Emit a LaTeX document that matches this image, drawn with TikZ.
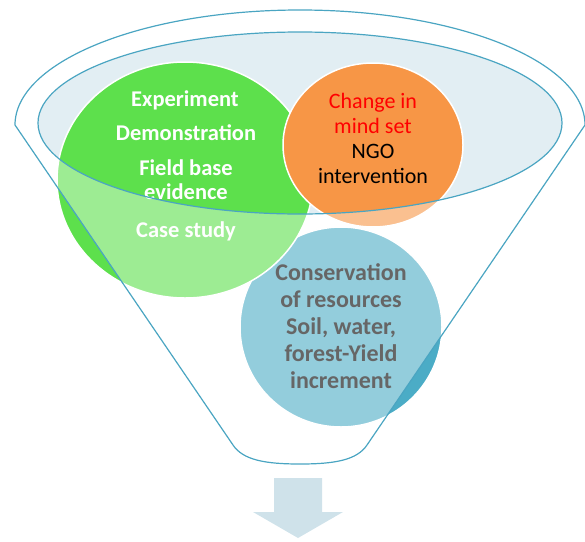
\documentclass[tikz,border=0pt]{standalone}
\usepackage{fontspec}
\setmainfont{Carlito}
\definecolor{rimblue}{HTML}{4AA5C2}
\definecolor{mouthfill}{HTML}{E2EEF3}
\definecolor{evgreen}{HTML}{5DE04C}
\definecolor{ngoorange}{HTML}{F79646}
\definecolor{resblue}{HTML}{4BACC6}
\definecolor{arrowfill}{HTML}{CFE2EA}
\definecolor{restext}{HTML}{666666}
\begin{document}
\begin{tikzpicture}[x=1pt,y=-1pt,
    bubble/.style={draw=white,line width=1.5pt},
    rim/.style={draw=rimblue,line width=1.2pt},
    greentxt/.style={inner sep=0pt,align=center,text=white,font=\bfseries\fontsize{22.5}{24}\selectfont},
    orangetxt/.style={inner sep=0pt,align=center,font=\fontsize{22}{25}\selectfont},
    bluetxt/.style={inner sep=0pt,align=center,text=restext,font=\bfseries\fontsize{24}{27}\selectfont}]
    \useasboundingbox (0,0) rectangle (585,541);
    % mouth of the funnel
    \fill [mouthfill] (300,123) ellipse (262 and 91);
    % the three bubbles
    \filldraw [bubble,fill=resblue] (341,327) ellipse (101 and 100);
    \filldraw [bubble,fill=evgreen] (185,180) ellipse (128 and 118);
    \filldraw [bubble,fill=ngoorange] (373,145) ellipse (90 and 82);
    \node [greentxt] (exp) at (185,100) {Experiment};
    \node [greentxt] (demo) at (186,133) {Demonstration};
    \node [greentxt] (field) at (186,180) {Field base\\evidence};
    \node [greentxt] (case) at (186,231) {Case study};
    \node [orangetxt] (ngo) at (373,138) {\textcolor{red}{Change in}\\\textcolor{red}{mind set}\\NGO\\intervention};
    % body of the funnel, lighter
    \fill [white,opacity=.4,even odd rule] (15,125) arc [start angle=180,end angle=360,x radius=285,y radius=115]
        -- (367,445) .. controls (357,460) and (335,464) .. (300,464)
        .. controls (265,464) and (243,460) .. (233,445) -- cycle
        (300,123) ellipse (262 and 91);
    \node [bluetxt] (res) at (341,326) {Conservation\\of resources\\Soil, water,\\forest-Yield\\increment};
    % outlines
    \draw [rim] (15,125) arc [start angle=180,end angle=360,x radius=285,y radius=115]
        -- (367,445) .. controls (357,460) and (335,464) .. (300,464)
        .. controls (265,464) and (243,460) .. (233,445) -- cycle;
    \draw [rim] (300,123) ellipse (262 and 91);
    % arrow below
    \fill [arrowfill] (274,478) -- (322,478) -- (322,512) -- (343,512) -- (298,538) -- (253,512) -- (274,512) -- cycle;
\end{tikzpicture}
\end{document}
